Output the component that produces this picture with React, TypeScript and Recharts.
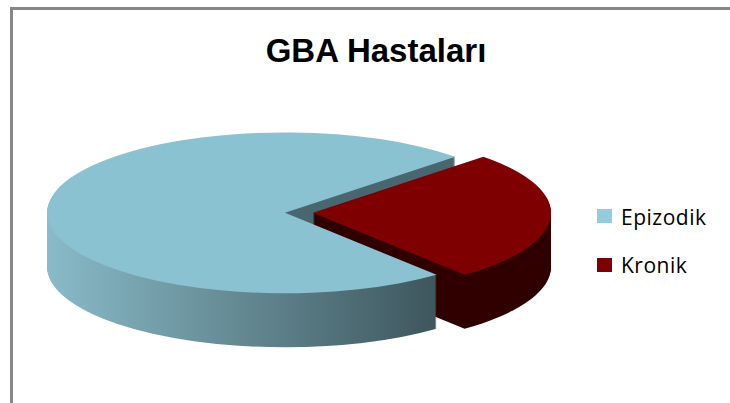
import React from 'react';
import { PieChart, Pie, Cell } from 'recharts';

// ---- data ----
const categories = ['Epizodik', 'Kronik'];
const values = [42, 15];
const chartTitle = 'GBA Hastaları';

// ---- style ----
const topColors = ['#8AC2D1', '#7F0000'];
const legendColors = ['#93CDDD', '#7F0000'];
const sideRed = '#310000';
const cutBlue = '#4A6771';

const START_ANGLE = 44.3; // rotation of first slice
const TILT = 0.338; // vertical squash of the pie (3D view)
const R = 238;
const CX = 285;
const CY = 248;
const EXPLODE = 28;
const DEPTH = 54; // thickness in screen px
const LAYERS = 54;
const CHART_W = 600;
const CHART_H = 660;
const FINAL_CY = 213;

const total = values.reduce((a, b) => a + b, 0);
const pieData = categories.map((name, i) => ({ name, value: values[i] }));
// split the first slice into back-right / back-left / front parts for painter's order of the side walls
const backRight = (total * (90 - START_ANGLE)) / 360;
const backLeft = total * 0.5;
const wallData = [
  { name: categories[0] + '-1', value: backRight },
  { name: categories[0] + '-2', value: backLeft },
  { name: categories[0] + '-3', value: values[0] - backRight - backLeft },
  { name: categories[1], value: values[1] },
];

const offsets = Array.from({ length: LAYERS }, (_, i) => ((LAYERS - i) * (DEPTH / LAYERS)) / TILT);

const common = {
  dataKey: 'value',
  nameKey: 'name',
  outerRadius: R,
  innerRadius: 0,
  startAngle: START_ANGLE,
  endAngle: START_ANGLE + 360,
  isAnimationActive: false,
  stroke: 'none',
  legendType: 'none' as const,
  paddingAngle: 0,
};

export default function App() {
  const top = FINAL_CY - TILT * CY;
  return (
    <div
      style={{
        position: 'fixed',
        left: 0,
        top: 0,
        width: 730,
        height: 403,
        background: '#ffffff',
        overflow: 'hidden',
      }}
    >
      <div
        style={{
          position: 'absolute',
          left: 0,
          top: top,
          width: CHART_W,
          height: CHART_H,
          transform: `scaleY(${TILT})`,
          transformOrigin: '0 0',
        }}
      >
        <PieChart width={CHART_W} height={CHART_H} margin={{ top: 0, right: 0, bottom: 0, left: 0 }}>
          <defs>
            <linearGradient id="sideBlue" gradientUnits="userSpaceOnUse" x1={46} y1={0} x2={437} y2={0}>
              <stop offset="0" stopColor="#89BBC8" />
              <stop offset="1" stopColor="#3E565D" />
            </linearGradient>
          </defs>
          {offsets.map((o, i) => (
            <Pie key={'back' + i} {...common} data={wallData} cx={CX} cy={CY + o}>
              <Cell fill={cutBlue} stroke="none" />
              <Cell fill="url(#sideBlue)" stroke="none" />
              <Cell fill="none" stroke="none" />
              <Cell fill="none" stroke="none" />
            </Pie>
          ))}
          {offsets.map((o, i) => (
            <Pie key={'red' + i} {...common} data={pieData} cx={CX + EXPLODE} cy={CY + o}>
              <Cell fill="none" stroke="none" />
              <Cell fill={sideRed} stroke="none" />
            </Pie>
          ))}
          {offsets.map((o, i) => (
            <Pie key={'front' + i} {...common} data={wallData} cx={CX} cy={CY + o}>
              <Cell fill="none" stroke="none" />
              <Cell fill="none" stroke="none" />
              <Cell fill="url(#sideBlue)" stroke="none" />
              <Cell fill="none" stroke="none" />
            </Pie>
          ))}
          <Pie key="topBlue" {...common} data={pieData} cx={CX} cy={CY}>
            <Cell fill={topColors[0]} stroke="none" />
            <Cell fill="none" stroke="none" />
          </Pie>
          <Pie key="topRed" {...common} data={pieData} cx={CX + EXPLODE} cy={CY}>
            <Cell fill="none" stroke="none" />
            <Cell fill={topColors[1]} stroke="none" />
          </Pie>
        </PieChart>
      </div>
      <svg width={730} height={403} style={{ position: 'absolute', left: 0, top: 0 }}>
        <rect x={10} y={7} width={730} height={3} fill="#878787" />
        <rect x={10} y={7} width={3} height={400} fill="#878787" />
        <text
          x={376}
          y={62}
          textAnchor="middle"
          fontFamily="'Liberation Sans', Arial, sans-serif"
          fontWeight="bold"
          fontSize={33}
          fill="#000"
        >
          {chartTitle}
        </text>
        {categories.map((c, i) => (
          <g key={c}>
            <rect x={597} y={209 + i * 49} width={15} height={14} fill={legendColors[i]} />
            <text
              x={621}
              y={225 + i * 48}
              fontFamily="'Open Sans', sans-serif"
              fontSize={21}
              letterSpacing={0.5}
              fill="#000"
            >
              {c}
            </text>
          </g>
        ))}
      </svg>
    </div>
  );
}
